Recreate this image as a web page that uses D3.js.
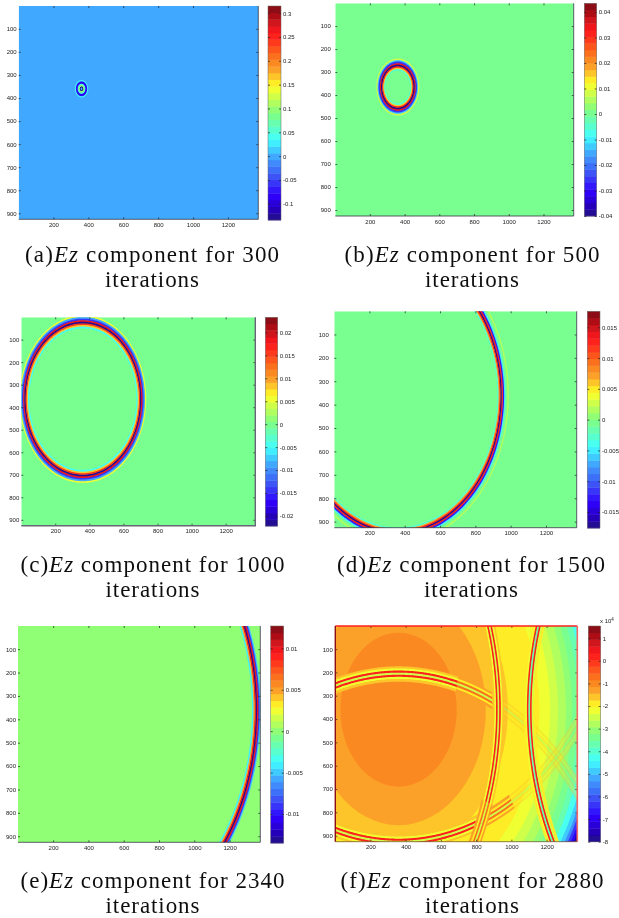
<!DOCTYPE html>
<html lang="en">
<head>
<meta charset="UTF-8">
<title>Ez component</title>
<script src="https://d3js.org/d3.v7.min.js"></script>
<style>
  body { margin: 0; background: white; }
  svg { display: block; }
  .tick text { font-family: "Liberation Sans", sans-serif; font-size: 6px; fill: #222; }
  .cap { font-family: "Liberation Serif", serif; font-size: 23px; fill: #111; text-anchor: middle; }
</style>
</head>
<body>
<svg id="chart"></svg>
<script>
// values
const xTicks = [200, 400, 600, 800, 1000, 1200];
const yTicks = [100, 200, 300, 400, 500, 600, 700, 800, 900];

const colorPos = [0, .06, .12, .2, .29, .375, .5, .625, .7, .75, .875, 1];
const colorVal = ["#1e0a82", "#2800c8", "#3000ff", "#3c50f5", "#40a0ff", "#40ffff", "#80ff80", "#ffff28", "#fba32a", "#fa7d1e", "#ff141e", "#7d0f14"];
const levels = 32;

const iterations = [300, 500, 1000, 1500, 2340, 2880];
const letters = ["a", "b", "c", "d", "e", "f"];

const barTicksA = [0.3, 0.25, 0.2, 0.15, 0.1, 0.05, 0, -0.05, -0.1];
const barTicksB = [0.04, 0.03, 0.02, 0.01, 0, -0.01, -0.02, -0.03, -0.04];
const barTicksC = [0.02, 0.015, 0.01, 0.005, 0, -0.005, -0.01, -0.015, -0.02];
const barTicksD = [0.015, 0.01, 0.005, 0, -0.005, -0.01, -0.015];
const barTicksE = [0.01, 0.005, 0, -0.005, -0.01];
const barTicksF = [1, 0, -1, -2, -3, -4, -5, -6, -7, -8];

const barRanges = [[-0.134, 0.315], [-0.04, 0.0434], [-0.0222, 0.0233], [-0.0176, 0.0176], [-0.0135, 0.0127], [-8, 1.54]];
const backgrounds = [0, 0, 0, -0.0002, 0.0002, -2.6];

// ring edges, outer to inner, with the field value of each band
const ringEdgesA = [38, 32, 22, 17, 10, 5, 0];
const ringValuesA = [0.03, -0.08, 0.04, 0.1, -0.12, 0.02];
const ringEdgesB = [124, 117, 111, 103, 97, 90, 84, 78, 73];
const ringValuesB = [0.008, -0.012, -0.026, 0.035, -0.042, 0.032, 0.016, -0.004];
const ringEdgesC = [372, 365, 357, 350, 343, 336, 329, 322, 316];
const ringValuesC = [0.005, -0.008, -0.014, 0.018, -0.022, 0.016, 0.009, -0.004];
const ringEdgesD = [630, 622, 610, 603, 596, 589, 583, 577, 571, 566];
const ringValuesD = [0.0012, -0.0002, -0.005, -0.013, 0.013, -0.017, 0.013, 0.007, -0.003];
const ringEdgesE = [1002, 995, 988, 981, 974, 967, 960, 954];
const ringValuesE = [-0.005, -0.009, 0.01, -0.013, 0.01, 0.005, -0.004];
const ringCenters = [[361, 360], [361, 365], [362, 364], [360, 360], [375, 360]];

// panel f: smooth background ellipses, outer to inner
const bgRadiiF = [1165, 1145, 1130, 1115, 1100, 1080, 1050, 1020, 985, 950, 905, 860, 800, 720, 620, 495, 330];
const bgValuesF = [-8, -7, -6.3, -5.6, -5, -4.4, -3.8, -3.4, -3, -2.65, -2.35, -2.1, -1.95, -1.75, -1.6, -1.35, -1.1];

// panel f: reflected wavefronts (image source x, y, from angle, to angle, strength)
const frontCx = [360, 360, 360, 360, 360, 360, -360, -360, 2388];
const frontCy = [1492, 1492, 1492, -360, -360, -360, 360, 360, 360];
const frontA0 = [-110, -75, -63, 110, 68, 60, -20, 18, 200];
const frontA1 = [-75, -63, -36, 68, 60, 36, 18, 30, 150];
const frontKind = [0, 1, 2, 0, 1, 2, 0, 1, 3];
const frontEdges = [1318, 1309, 1300, 1291, 1282, 1273, 1264, 1254];
const frontValues = [
  [-1.5, -2.1, 0.2, -2.6, 0.2, -2.1, -1.5],
  [-1.4, -1.9, -0.7, -2.4, -0.7, -1.9, -1.4],
  [-1.7, -1.9, -1.5, -3, -1.5, -1.9, -1.7],
  [-1.9, -2.3, 0.1, -3.6, 0.1, -2.4, -2]
];
const frontOpacity = [1, 1, 0.35, 1];

// pixel boxes of the six plots and their colorbars
const plotBoxes = [
  [18.7, 258.3, 6, 219.3, 268, 281, 6, 220],
  [335.3, 573.7, 3.3, 216, 584.3, 596.7, 3.3, 216],
  [21.3, 255.3, 317.3, 525.7, 265.3, 277.7, 317.3, 526],
  [334.3, 576.7, 311.3, 527.7, 587.3, 600, 311.3, 528],
  [18, 260.3, 626, 842.3, 270.7, 283.7, 626, 843],
  [335.3, 577.3, 626, 841.7, 588.3, 600.7, 626, 841.7]
];
const capBoxes = [[152, 262, 287, 254], [472, 262, 287, 255], [152.5, 572, 597, 264], [471, 572, 597, 268], [152.5, 888, 913, 264], [472, 888, 913, 263]];
const yLabelPad = [2, 4.5, 2, 5.5, 2, 2.5];

const barTicks = [barTicksA, barTicksB, barTicksC, barTicksD, barTicksE, barTicksF];
const ringEdges = [ringEdgesA, ringEdgesB, ringEdgesC, ringEdgesD, ringEdgesE];
const ringValues = [ringValuesA, ringValuesB, ringValuesC, ringValuesD, ringValuesE];

const svg = d3.select("#chart").attr("width", 619).attr("height", 918);
const defs = svg.append("defs");
defs.append("filter").attr("id", "soft")
  .attr("x", 0).attr("y", 0).attr("width", 1).attr("height", 1)
  .append("feGaussianBlur").attr("stdDeviation", 0.45);

const root = svg.append("g").attr("filter", "url(#soft)");
root.append("rect").attr("width", 619).attr("height", 918).attr("fill", "white");

const cmap = d3.scaleLinear().domain(colorPos).range(colorVal).interpolate(d3.interpolateRgb);

function drawPanel(i) {
  const [x0, x1, y0, y1, bx0, bx1, by0, by1] = plotBoxes[i];
  const x = d3.scaleLinear().domain([1, 1374]).range([x0, x1]);
  const y = d3.scaleLinear().domain([1, 926]).range([y0, y1]);
  const bar = d3.scaleLinear().domain(barRanges[i]).range([by1, by0]);

  const quant = d3.scaleQuantize().domain(barRanges[i]).range(d3.range(levels));
  const levelColor = v => cmap((quant(v) + 0.5) / levels);

  const g = root.append("g");
  const clipId = "clip" + i;
  defs.append("clipPath").attr("id", clipId).append("rect")
    .attr("x", x0).attr("y", y0).attr("width", x1 - x0).attr("height", y1 - y0);

  const field = g.append("g").attr("clip-path", `url(#${clipId})`);
  field.append("rect").attr("x", x0).attr("y", y0).attr("width", x1 - x0).attr("height", y1 - y0)
    .attr("fill", levelColor(backgrounds[i]));

  const outline = d3.line().x(d => x(d[0])).y(d => y(d[1]));
  function band(cx, cy, rOut, rIn, a0, a1) {
    const step = (a1 - a0) / 180;
    const angles = d3.range(181).map(k => (a0 + k * step) * Math.PI / 180);
    const outer = angles.map(a => [cx + rOut * Math.cos(a), cy + rOut * Math.sin(a)]);
    const inner = angles.map(a => [cx + rIn * Math.cos(a), cy + rIn * Math.sin(a)]).reverse();
    return outline(outer.concat(inner)) + "Z";
  }

  if (i < 5) {
    const [cx, cy] = ringCenters[i];
    const edges = ringEdges[i];
    ringValues[i].forEach((v, k) => {
      field.append("path")
        .attr("d", band(cx, cy, edges[k], Math.max(edges[k + 1] - 2, 0), 0, 360))
        .attr("fill", levelColor(v));
    });
  } else {
    field.selectAll("ellipse").data(bgRadiiF).enter().append("ellipse")
      .attr("cx", x(360)).attr("cy", y(360))
      .attr("rx", d => x(d) - x(0)).attr("ry", d => y(d) - y(0))
      .attr("fill", (d, k) => levelColor(bgValuesF[k]));
    frontCx.forEach((cx, f) => {
      const kind = frontKind[f];
      frontValues[kind].forEach((v, k) => {
        field.append("path")
          .attr("d", band(cx, frontCy[f], frontEdges[k], frontEdges[k + 1] - (kind == 2 ? 0 : 2), frontA0[f], frontA1[f]))
          .attr("fill", levelColor(v))
          .attr("opacity", frontOpacity[kind]);
      });
    });
  }

  // axes
  const bottom = d3.axisBottom(x).tickValues(xTicks).tickFormat(d => d).tickSize(-2).tickPadding(3.5);
  const left = d3.axisLeft(y).tickValues(yTicks).tickFormat(d => d).tickSize(-2).tickPadding(yLabelPad[i]);
  const top = d3.axisTop(x).tickValues(xTicks).tickSize(-2).tickFormat("");
  const right = d3.axisRight(y).tickValues(yTicks).tickSize(-2).tickFormat("");
  const axes = [
    [bottom, `translate(0,${y1})`], [left, `translate(${x0},0)`],
    [top, `translate(0,${y0})`], [right, `translate(${x1},0)`]
  ];
  axes.forEach(([ax, tr]) => {
    const a = g.append("g").attr("transform", tr).call(ax);
    a.select(".domain").remove();
    a.selectAll("line").attr("stroke", "#222").attr("stroke-width", 0.7);
  });

  // box
  if (i == 5) {
    g.append("line").attr("x1", x0).attr("x2", x1).attr("y1", y0).attr("y2", y0).attr("stroke", levelColor(0.3)).attr("stroke-width", 1.6);
    g.append("line").attr("x1", x1).attr("x2", x1).attr("y1", y0).attr("y2", y1).attr("stroke", "#f56a62").attr("stroke-width", 1.6);
    g.append("line").attr("x1", x0).attr("x2", x0).attr("y1", y0).attr("y2", y1).attr("stroke", levelColor(1.3)).attr("stroke-width", 1.4);
    g.append("line").attr("x1", x0).attr("x2", x1).attr("y1", y1).attr("y2", y1).attr("stroke", "#7a5a3a").attr("stroke-width", 0.8);
  } else {
    g.append("path").attr("d", `M${x0},${y1}H${x1}V${y0}`).attr("fill", "none")
      .attr("stroke", i == 2 ? "#667" : "#334").attr("stroke-width", i == 2 ? 1.4 : 0.8);
  }

  // colorbar
  const cells = d3.range(levels);
  const cellH = (by1 - by0) / levels;
  g.selectAll(".cell").data(cells).enter().append("rect").attr("class", "cell")
    .attr("x", bx0).attr("width", bx1 - bx0)
    .attr("y", d => by1 - (d + 1) * cellH).attr("height", cellH + 0.4)
    .attr("fill", d => cmap((d + 0.5) / levels));
  g.append("rect").attr("x", bx0).attr("y", by0).attr("width", bx1 - bx0).attr("height", by1 - by0)
    .attr("fill", "none").attr("stroke", "#666").attr("stroke-width", 0.5);

  const barRight = g.append("g").attr("transform", `translate(${bx1},0)`)
    .call(d3.axisRight(bar).tickValues(barTicks[i]).tickFormat(d => d).tickSize(-2).tickPadding(2));
  const barLeft = g.append("g").attr("transform", `translate(${bx0},0)`)
    .call(d3.axisLeft(bar).tickValues(barTicks[i]).tickSize(-2).tickFormat(""));
  [barRight, barLeft].forEach(a => {
    a.select(".domain").remove();
    a.selectAll("line").attr("stroke", "#222").attr("stroke-width", 0.7);
  });

  // caption
  const [cx, b1, b2, w] = capBoxes[i];
  const line1 = g.append("text").attr("class", "cap").attr("x", cx).attr("y", b1)
    .attr("textLength", w).attr("lengthAdjust", "spacing");
  line1.append("tspan").text(`(${letters[i]})`);
  line1.append("tspan").attr("font-style", "italic").text("Ez");
  line1.append("tspan").text(` component for ${iterations[i]}`);
  g.append("text").attr("class", "cap").attr("x", cx).attr("y", b2)
    .attr("textLength", 94).attr("lengthAdjust", "spacing").text("iterations");
}

d3.range(6).forEach(drawPanel);

// multiplier above the last colorbar
const mult = root.append("text").attr("x", 600).attr("y", 623)
  .attr("font-family", "Liberation Sans, sans-serif").attr("font-size", 6).attr("fill", "#222");
mult.append("tspan").text("x 10");
mult.append("tspan").attr("dy", -2.5).attr("font-size", 4.5).text("4");
</script>
</body>
</html>
